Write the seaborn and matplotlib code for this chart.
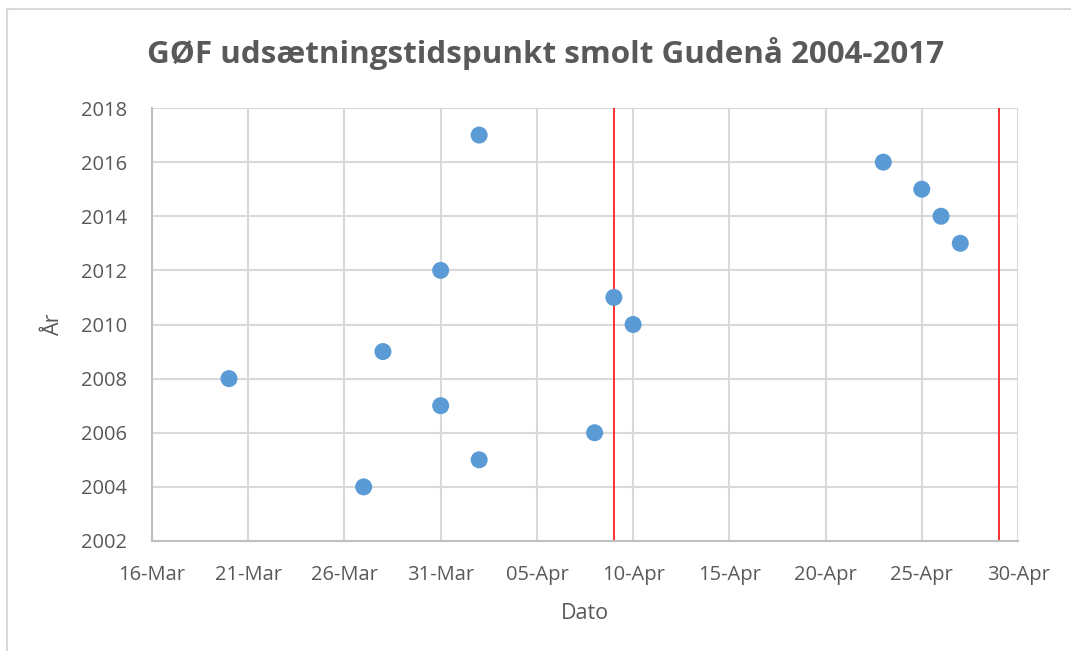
import matplotlib
matplotlib.use("Agg")
import matplotlib.dates as mdates
import matplotlib.pyplot as plt
import pandas as pd
import seaborn as sns
from matplotlib.lines import Line2D

# Data (release date per year)
years = [2004, 2005, 2006, 2007, 2008, 2009, 2010, 2011, 2012, 2013, 2014, 2015, 2016, 2017]
dates = [
    "2017-03-27", "2017-04-02", "2017-04-08", "2017-03-31", "2017-03-20",
    "2017-03-28", "2017-04-10", "2017-04-09", "2017-03-31", "2017-04-27",
    "2017-04-26", "2017-04-25", "2017-04-23", "2017-04-02",
]
red_lines = ["2017-04-09", "2017-04-29"]
x_ticks = pd.date_range("2017-03-16", "2017-04-30", freq="5D")

df = pd.DataFrame({"Dato": pd.to_datetime(dates), "År": years})

sns.set_style("white")
plt.rcParams["font.family"] = ["Open Sans", "DejaVu Sans"]
text_col = "#595959"
grid_col = "#D9D9D9"

fig = plt.figure(figsize=(10.71, 6.51), dpi=100)
ax = fig.add_axes([152 / 1071, 1 - 541 / 651, (1018 - 152) / 1071, (541 - 108) / 651])

sns.scatterplot(data=df, x="Dato", y="År", color="#5B9BD5", s=150,
                edgecolor="none", ax=ax, zorder=3)
for d in red_lines:
    ax.axvline(pd.Timestamp(d), color="#FF2020", lw=1.3, zorder=2)

ax.set_xlim(x_ticks[0], x_ticks[-1])
ax.set_ylim(2002, 2018)
ax.set_xticks(x_ticks)
ax.set_yticks(range(2002, 2019, 2))
ax.xaxis.set_major_formatter(mdates.DateFormatter("%d-%b"))
ax.grid(True, color=grid_col, lw=1.5, zorder=0)
ax.set_axisbelow(True)
ax.tick_params(length=0, labelsize=14.5, labelcolor=text_col)
ax.tick_params(axis="y", pad=18)
ax.tick_params(axis="x", pad=17)
for s in ["top", "right"]:
    ax.spines[s].set_visible(False)
for s in ["left", "bottom"]:
    ax.spines[s].set_color("#BFBFBF")
    ax.spines[s].set_linewidth(1.5)

ax.set_xlabel("Dato", fontsize=15.5, color=text_col, labelpad=13)
ax.set_ylabel("År", fontsize=15.5, color=text_col, labelpad=12)
fig.text(0.509, 0.918, "GØF udsætningstidspunkt smolt Gudenå 2004-2017",
         ha="center", va="center", fontsize=22.6, fontweight="bold", color=text_col)

# chart border (top and left visible)
fig.add_artist(Line2D([7 / 1071, 7 / 1071], [0, 1 - 9 / 651], color=grid_col, lw=1.5))
fig.add_artist(Line2D([7 / 1071, 1], [1 - 9 / 651, 1 - 9 / 651], color=grid_col, lw=1.5))

fig.savefig("out.png", dpi=100)
